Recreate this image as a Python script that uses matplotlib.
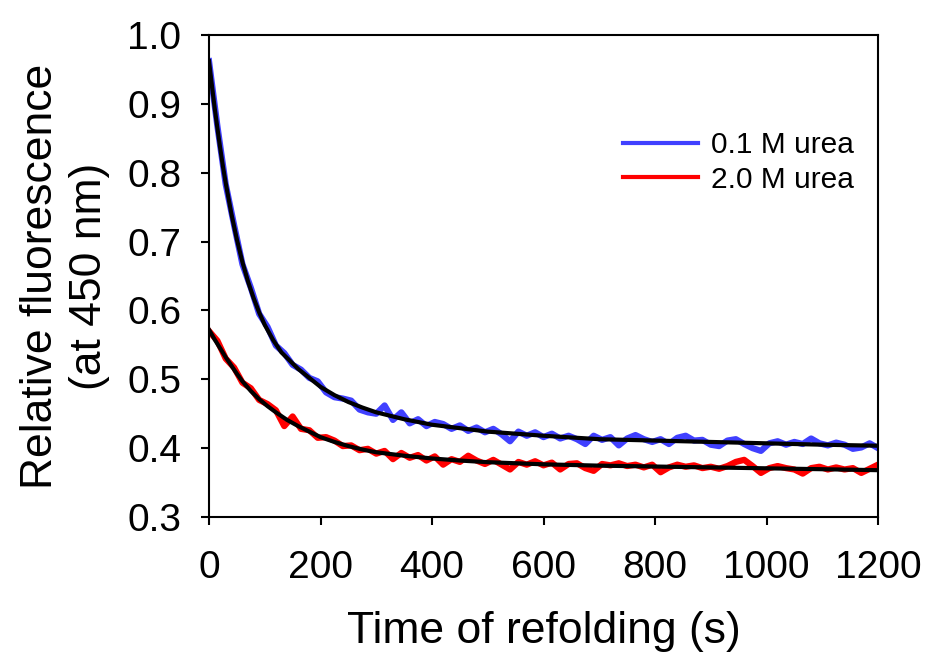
import matplotlib
matplotlib.use('Agg')
import matplotlib.pyplot as plt
import numpy as np

plt.rcParams['font.family'] = ['Liberation Sans', 'DejaVu Sans']

# time grid of the measured traces (s)
t_data = np.arange(0, 1201, 15)

# 0.1 M urea trace
blue_data = [0.962, 0.868, 0.783, 0.724, 0.667, 0.633, 0.595, 0.576, 0.549, 0.538,
             0.521, 0.514, 0.502, 0.497, 0.481, 0.474, 0.472, 0.469, 0.456, 0.452,
             0.450, 0.462, 0.441, 0.452, 0.436, 0.442, 0.432, 0.438, 0.435, 0.428,
             0.433, 0.425, 0.430, 0.423, 0.428, 0.420, 0.410, 0.424, 0.418, 0.423,
             0.416, 0.421, 0.414, 0.418, 0.413, 0.406, 0.418, 0.412, 0.416, 0.404,
             0.414, 0.419, 0.413, 0.409, 0.413, 0.406, 0.415, 0.418, 0.411, 0.412,
             0.405, 0.403, 0.411, 0.413, 0.406, 0.400, 0.396, 0.407, 0.410, 0.405,
             0.409, 0.406, 0.414, 0.407, 0.404, 0.408, 0.405, 0.399, 0.401, 0.407,
             0.400]

# 2.0 M urea trace
red_data = [0.570, 0.556, 0.530, 0.517, 0.495, 0.487, 0.470, 0.464, 0.455, 0.432,
            0.446, 0.428, 0.426, 0.415, 0.416, 0.411, 0.403, 0.404, 0.397, 0.399,
            0.392, 0.396, 0.384, 0.393, 0.386, 0.390, 0.382, 0.388, 0.376, 0.384,
            0.380, 0.389, 0.382, 0.377, 0.383, 0.376, 0.369, 0.380, 0.376, 0.381,
            0.375, 0.379, 0.369, 0.377, 0.378, 0.371, 0.367, 0.377, 0.375, 0.378,
            0.374, 0.376, 0.372, 0.376, 0.365, 0.372, 0.376, 0.373, 0.375, 0.371,
            0.373, 0.370, 0.374, 0.380, 0.383, 0.374, 0.364, 0.371, 0.374, 0.371,
            0.369, 0.363, 0.371, 0.373, 0.369, 0.372, 0.369, 0.371, 0.364, 0.370,
            0.376]

# fitted curves (black)
blue_fit_t = [0, 5, 10, 15, 20, 25, 30, 40, 50, 60, 70, 80, 90, 100, 115, 130, 145, 160,
              180, 200, 225, 250, 275, 300, 350, 400, 450, 500, 600, 700, 800, 900,
              1000, 1100, 1200]
blue_fit = [0.962, 0.928, 0.895, 0.865, 0.836, 0.809, 0.785, 0.741, 0.703, 0.670,
            0.642, 0.618, 0.597, 0.579, 0.557, 0.539, 0.527, 0.515, 0.502, 0.489,
            0.477, 0.467, 0.459, 0.452, 0.442, 0.434, 0.429, 0.424, 0.418, 0.413,
            0.411, 0.409, 0.407, 0.405, 0.4035]

red_fit_t = [0, 10, 20, 30, 40, 50, 60, 75, 90, 105, 120, 140, 160, 180, 200, 225, 250,
             275, 300, 350, 400, 450, 500, 600, 700, 800, 900, 1000, 1100, 1200]
red_fit = [0.572, 0.558, 0.545, 0.532, 0.520, 0.508, 0.497, 0.483, 0.471, 0.461,
           0.452, 0.441, 0.432, 0.424, 0.416, 0.409, 0.403, 0.398, 0.394, 0.389,
           0.385, 0.382, 0.3796, 0.3765, 0.3746, 0.3733, 0.372, 0.3707, 0.3694, 0.368]

fig = plt.figure(figsize=(9.29, 6.57), dpi=100)
ax = fig.add_axes([209/929, 1-517/657, 669/929, 482/657])

ax.plot(t_data, blue_data, color='#4040ff', lw=4.5, solid_joinstyle='round',
        label='0.1 M urea')
ax.plot(t_data, red_data, color='#ff0000', lw=4.5, solid_joinstyle='round',
        label='2.0 M urea')
ax.plot(blue_fit_t, blue_fit, color='black', lw=3.0, solid_joinstyle='round')
ax.plot(red_fit_t, red_fit, color='black', lw=3.0, solid_joinstyle='round')

ax.set_xlim(0, 1200)
ax.set_ylim(0.3, 1.0)
ax.set_xticks(np.arange(0, 1201, 200))
ax.set_yticks(np.arange(0.3, 1.01, 0.1))
ax.yaxis.set_major_formatter(matplotlib.ticker.FormatStrFormatter('%.1f'))
ax.tick_params(direction='out', length=6, width=1.5, labelsize=28)
ax.tick_params(axis='x', pad=18)
ax.tick_params(axis='y', pad=14)
for s in ax.spines.values():
    s.set_linewidth(1.5)

ax.set_xlabel('Time of refolding (s)', fontsize=32, labelpad=18)
ax.set_ylabel('Relative fluorescence\n(at 450 nm)', fontsize=32, labelpad=12,
              linespacing=1.25)

leg = ax.legend(loc='upper left', bbox_to_anchor=(623/929, 1-131/657),
                bbox_transform=fig.transFigure, frameon=False, fontsize=21.5,
                handlelength=2.5, handletextpad=0.45, labelspacing=0.22,
                borderpad=0, borderaxespad=0)
for line in leg.get_lines():
    line.set_linewidth(3)

fig.savefig('out.png', dpi=100)
